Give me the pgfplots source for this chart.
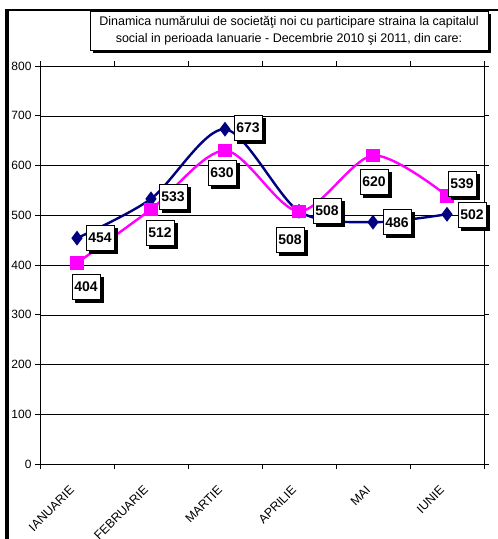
\documentclass[border=0pt]{standalone}
\usepackage{pgfplots}
\pgfplotsset{compat=1.18}
\usepackage{pgfplotstable}
\usepackage{fontspec}
\setmainfont{Liberation Sans}
\usetikzlibrary{shadows}
\definecolor{navyc}{RGB}{0,0,128}
\definecolor{magc}{RGB}{255,0,255}

\pgfplotstableread{
x y dx dy
0 454 23 0
1 533 22 2
2 673 23 1
3 508 -9 -28
4 486 24 0
5 502 25 0
}\blueT
\pgfplotstableread{
x y dx dy
0 404 9 -24
1 512 9 -23
2 630 -3 -22
3 508 28 1
4 620 1 -26
5 539 15 12
}\pinkT

\begin{document}
\begin{tikzpicture}[x=1pt,y=1pt]
\useasboundingbox (0,0) rectangle (498,539);
\fill[black] (5,0) rectangle (9,530);
\fill[black] (5,528) rectangle (498,530);
\begin{axis}[at={(40pt,75pt)}, anchor=south west, scale only axis,
  width=444pt, height=398pt,
  xmin=-0.5, xmax=5.5, ymin=0, ymax=800,
  xtick={0,...,5},
  xticklabels={IANUARIE,FEBRUARIE,MARTIE,APRILIE,MAI,IUNIE},
  x tick label style={xshift=-8pt, yshift=-11pt, rotate=45, anchor=north east, font=\fontsize{12.3}{13}\selectfont},
  major x tick style={draw=none},
  minor xtick={-0.5,0.5,...,5.5},
  minor x tick style={draw=black, line width=0.6pt},
  minor tick length=5pt,
  ytick={0,100,...,800},
  ymajorgrids, grid style={black, line width=0.5pt},
  tick align=outside, major tick length=5pt,
  y tick label style={font=\fontsize{12}{13}\selectfont},
  ytick style={draw=black, line width=0.6pt},
  axis line style={line width=0.6pt},
  clip=false,
  /pgf/number format/assume math mode=true,
]
\addplot[navyc, line width=2.4pt, smooth, tension=0.5, mark=diamond*, mark size=5.5pt,
  mark options={solid, fill=navyc},
  nodes near coords, point meta=y,
  visualization depends on={\thisrow{dx} \as \dx},
  visualization depends on={\thisrow{dy} \as \dy},
  nodes near coords style={anchor=center, xshift=\dx pt, yshift=\dy pt,
    font=\bfseries\fontsize{14}{15}\selectfont, text=black, fill=white, draw=black,
    line width=0.5pt, inner xsep=2.5pt, minimum height=25pt,
    drop shadow={shadow xshift=3pt, shadow yshift=-3pt, opacity=1, fill=black}},
] table[x=x, y=y] {\blueT};
\addplot[magc, line width=2.4pt, smooth, tension=0.5, mark=square*, mark size=5.5pt,
  mark options={solid, fill=magc},
  nodes near coords, point meta=y,
  visualization depends on={\thisrow{dx} \as \dx},
  visualization depends on={\thisrow{dy} \as \dy},
  nodes near coords style={anchor=center, xshift=\dx pt, yshift=\dy pt,
    font=\bfseries\fontsize{14}{15}\selectfont, text=black, fill=white, draw=black,
    line width=0.5pt, inner xsep=2.5pt, minimum height=25pt,
    drop shadow={shadow xshift=3pt, shadow yshift=-3pt, opacity=1, fill=black}},
] table[x=x, y=y] {\pinkT};
\end{axis}
\node[draw=black, line width=0.6pt, fill=white, align=center,
  font=\fontsize{12.5}{17}\selectfont, inner sep=2pt,
  minimum width=398pt, minimum height=39pt,
  drop shadow={shadow xshift=3pt, shadow yshift=-3pt, opacity=1, fill=black}]
  at (289,508.5) {Dinamica numărului de societăţi noi cu participare straina la capitalul\\ social in perioada Ianuarie - Decembrie 2010 şi 2011, din care:};
\end{tikzpicture}
\end{document}
